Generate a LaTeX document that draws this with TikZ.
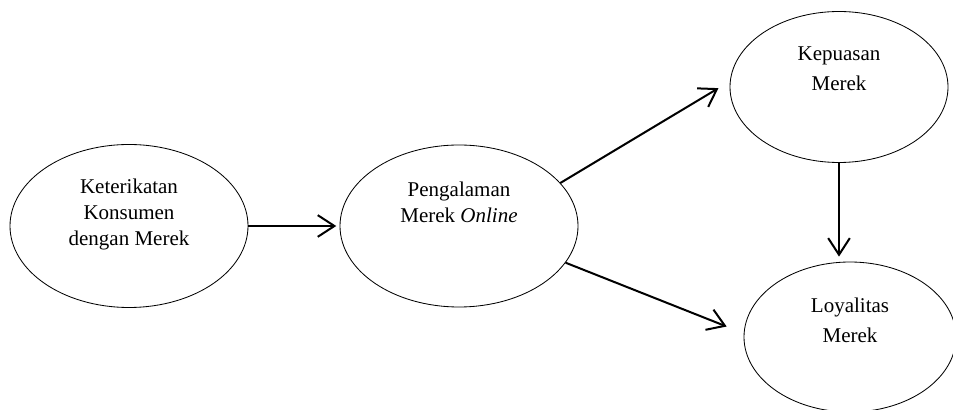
\documentclass[tikz,border=0pt]{standalone}
\usepackage{fontspec}
\setmainfont{Liberation Serif}
\usetikzlibrary{arrows.meta,positioning,shapes.geometric}
\tikzset{
  oval/.style ={ellipse,draw,line width=0.5pt,inner sep=0pt},
  txt/.style  ={align=center,inner sep=0pt,font=\fontsize{12.6}{15.6}\selectfont},
  link/.style ={->,line width=1.2pt},
  >={Straight Barb[length=10pt,width=13pt,line width=1.2pt]}
}

\begin{document}
\begin{tikzpicture}[x=0.6pt,y=-0.6pt]
\useasboundingbox (0,0) rectangle (953,410);
\clip (0,0) rectangle (953,410);

% -------- variables --------
\node[oval, minimum width=142.8pt, minimum height=97.8pt] (ke) at (129,226) {};
\node[oval, minimum width=142.8pt, minimum height=97.2pt] (pe) at (459,226) {};
\node[oval, minimum width=130.8pt, minimum height=90.6pt] (ku) at (839,87) {};
\node[oval, minimum width=127.2pt, minimum height=90pt] (lo) at (850,337) {};

% -------- labels --------
\node[txt] (tke) at (129,214) {Keterikatan\\Konsumen\\dengan Merek};
\node[txt] (tpe) at (459,202) {Pengalaman\\Merek \textit{Online}};
\node[txt] (tku) at (839,69) {Kepuasan\\[2.6pt]Merek};
\node[txt] (tlo) at (850,320) {Loyalitas\\[2.6pt]Merek};

% -------- paths --------
\draw[link, shorten >=2pt] (ke.east) -- (pe.west);
\draw[link, shorten >=8pt] (pe.23) -- (ku.177);
\draw[link, shorten >=11pt] (pe.-19) -- (lo.178);
\draw[link, shorten >=3pt] (ku.south) -- (ku.south |- lo.north);

\end{tikzpicture}
\end{document}
